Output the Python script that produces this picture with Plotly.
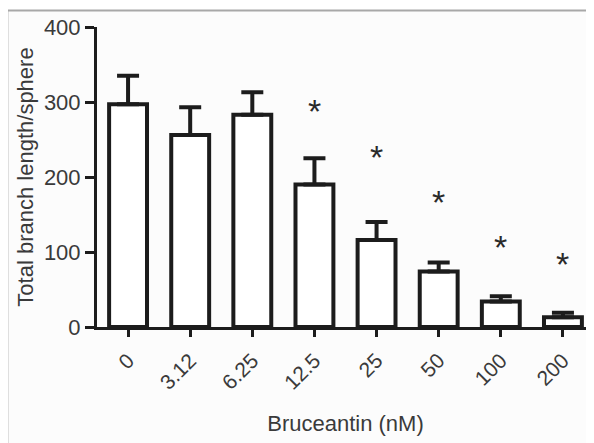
import plotly.graph_objects as go

categories = ["0", "3.12", "6.25", "12.5", "25", "50", "100", "200"]
means = [297, 256, 283, 190, 116, 74, 34, 13]
sem = [38, 37, 30, 35, 24, 12, 7, 6]
star_y = [None, None, None, 293, 232, 172, 112, 89]
y_ticks = [0, 100, 200, 300, 400]

ink = "#1c1c1c"
txt = "#3a3a3a"
font_family = "Liberation Sans, Arial, sans-serif"

fig = go.Figure()
fig.add_trace(go.Bar(
    x=categories, y=means, width=0.61,
    marker=dict(color="white", line=dict(color=ink, width=4)),
    error_y=dict(type="data", symmetric=False, array=sem,
                 arrayminus=[0] * len(sem), color=ink, thickness=4, width=11),
    showlegend=False,
))

annotations = []
for i, sy in enumerate(star_y):
    if sy is None:
        continue
    annotations.append(dict(x=i, y=sy, text="*", showarrow=False,
                            xref="x", yref="y", yanchor="middle", yshift=-4,
                            font=dict(size=34, color="#2a2a2a", family=font_family)))

fig.update_layout(
    width=586, height=435,
    margin=dict(l=89, r=0, t=19, b=116, autoexpand=False),
    paper_bgcolor="white", plot_bgcolor="rgba(0,0,0,0)",
    font=dict(family=font_family, color=txt, size=18),
    annotations=annotations,
    shapes=[dict(type="rect", xref="paper", yref="paper",
                 x0=-0.1804, x1=1.02, y0=-0.42, y1=1.055,
                 line=dict(color="#a8a8a8", width=2), fillcolor="#fcfcfc",
                 layer="below")],
)
fig.update_xaxes(
    type="category", range=[-0.5, 7.5],
    showline=True, linecolor=ink, linewidth=3,
    ticks="outside", ticklen=7, tickwidth=3, tickcolor=ink,
    tickangle=-45, tickfont=dict(size=21, color=txt),
    ticklabelstandoff=3,
    title=dict(text="Bruceantin (nM)", font=dict(size=22, color=txt), standoff=23),
    showgrid=False, zeroline=False, automargin=False,
)
fig.update_yaxes(
    range=[0, 400], tickvals=y_ticks,
    showline=True, linecolor=ink, linewidth=3,
    ticks="outside", ticklen=9, tickwidth=3, tickcolor=ink,
    tickfont=dict(size=22, color=txt),
    title=dict(text="Total branch length/sphere", font=dict(size=22, color=txt), standoff=5),
    showgrid=False, zeroline=False, automargin=False,
)

fig.write_html("out.html")
